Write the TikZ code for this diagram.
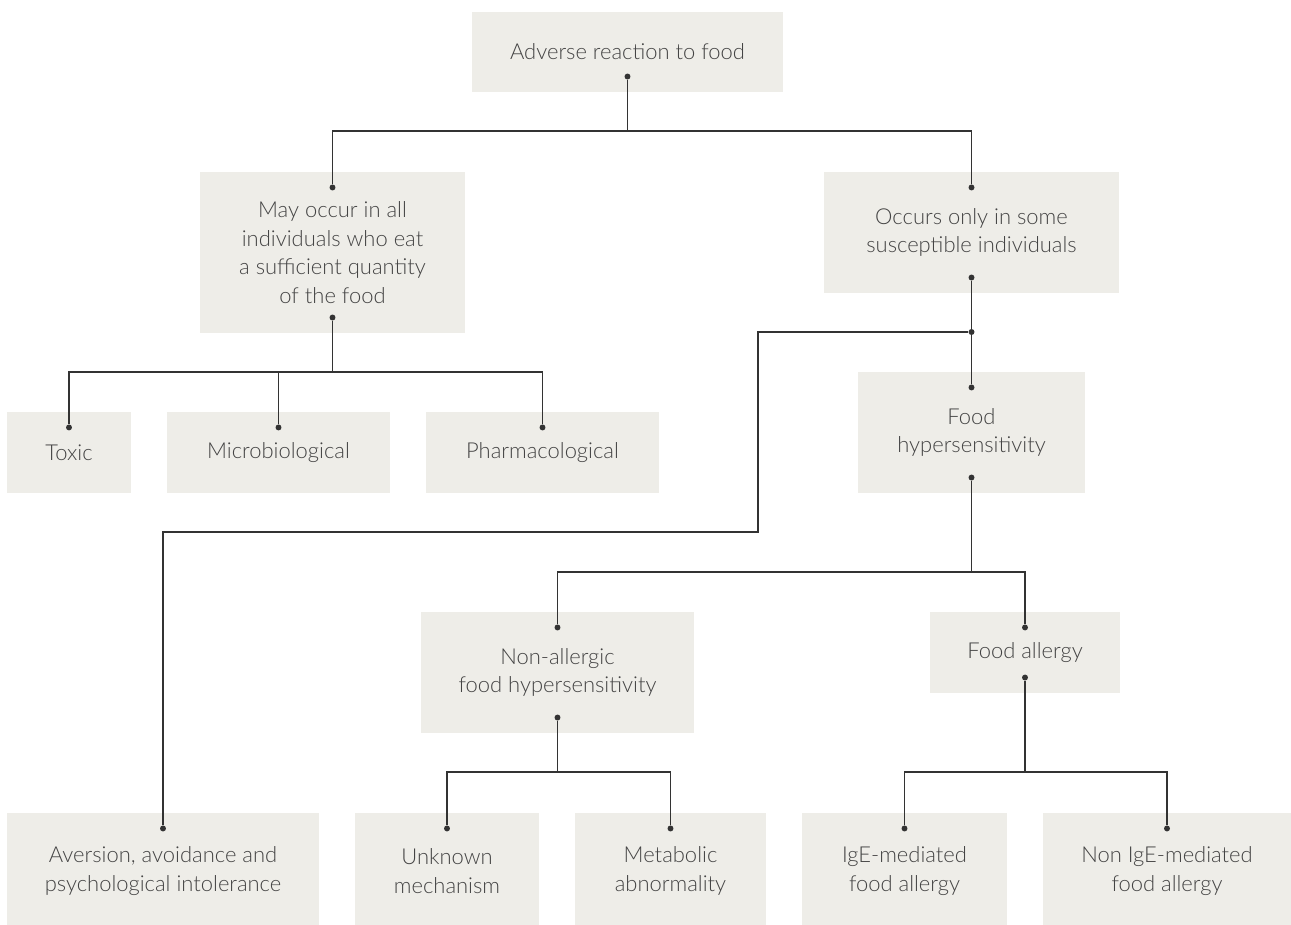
\documentclass[tikz,border=0pt]{standalone}
\usepackage{fontspec}
\setmainfont{Lato}[UprightFont=* Light]
\usetikzlibrary{positioning}

\definecolor{boxgray}{RGB}{238,237,232}
\definecolor{txtgray}{RGB}{68,68,68}
\definecolor{linegray}{RGB}{51,51,51}

\tikzset{
  box/.style={fill=boxgray, text=txtgray, align=center, inner sep=0pt,
    font=\fontsize{12.5}{16.2}\selectfont},
  conn/.style={draw=linegray, line width=0.85pt},
  dot/.style={circle, fill=linegray, inner sep=0pt, minimum size=3.4pt}
}

\begin{document}
\begin{tikzpicture}[x=0.02cm, y=-0.02cm]
\useasboundingbox (0,0) rectangle (1291,925);

% Boxes, top to bottom
\node[box, minimum width=6.22cm, minimum height=1.6cm] (adv) at (627.5,52) {Adverse reaction to food};
\node[box, minimum width=5.3cm, minimum height=3.22cm] (may) at (332.5,252.5)
  {May occur in all\\individuals who eat\\a sufficient quantity\\of the food};
\node[box, minimum width=5.9cm, minimum height=2.42cm] (occ) at (971.5,232.5)
  {Occurs only in some\\susceptible individuals};
\node[box, minimum width=2.48cm, minimum height=1.62cm] (toxic) at (69,452.5) {Toxic};
\node[box, minimum width=4.46cm, minimum height=1.62cm] (micro) at (278.5,452.5) {Microbiological};
\node[box, minimum width=4.66cm, minimum height=1.62cm] (pharm) at (542.5,452.5) {Pharmacological};
\node[box, minimum width=4.54cm, minimum height=2.42cm] (hyp) at (971.5,432.5) {Food\\hypersensitivity};
\node[box, minimum width=5.46cm, minimum height=2.42cm] (nonall) at (557.5,672.5)
  {Non-allergic\\food hypersensitivity};
\node[box, minimum width=3.8cm, minimum height=1.62cm] (allergy) at (1025,652.5) {Food allergy};
% bottom row runs off the lower edge
\node[box, minimum width=6.24cm, minimum height=2.32cm] (aver) at (163,871)
  {Aversion, avoidance and\\psychological intolerance};
\node[box, minimum width=3.68cm, minimum height=2.32cm] (unk) at (447,871) {Unknown\\mechanism};
\node[box, minimum width=3.82cm, minimum height=2.32cm] (meta) at (670.5,871) {Metabolic\\abnormality};
\node[box, minimum width=4.1cm, minimum height=2.32cm] (ige) at (904.5,871) {IgE-mediated\\food allergy};
\node[box, minimum width=4.96cm, minimum height=2.32cm] (nonige) at (1167,871) {Non IgE-mediated\\food allergy};

% Dots where the lines meet the boxes
\foreach \n in {adv,may,occ,hyp,nonall,allergy}
  \node[dot] (\n-out) at ([yshift=9pt]\n.south) {};
\foreach \n in {may,occ,toxic,micro,pharm,hyp,nonall,allergy,aver,unk,meta,ige,nonige}
  \node[dot] (\n-in) at ([yshift=-9pt]\n.north) {};
\node[dot] (split) at (occ-out |- 0,332) {};

% Connectors
\draw[conn] (adv-out) -- (adv-out |- 0,131) coordinate (adv-j);
\draw[conn] (adv-j) -| (may-in);
\draw[conn] (adv-j) -| (occ-in);

\draw[conn] (may-out) -- (may-out |- 0,372) coordinate (may-j);
\draw[conn] (may-j) -| (toxic-in);
\draw[conn] (may-j) -| (micro-in);
\draw[conn] (may-j) -| (pharm-in);

\draw[conn] (occ-out) -- (split) -- (hyp-in);
\draw[conn] (split) -| (758,532) -| (aver-in);

\draw[conn] (hyp-out) -- (hyp-out |- 0,572) coordinate (hyp-j);
\draw[conn] (hyp-j) -| (nonall-in);
\draw[conn] (hyp-j) -| (allergy-in);

\draw[conn] (nonall-out) -- (nonall-out |- 0,772) coordinate (nonall-j);
\draw[conn] (nonall-j) -| (unk-in);
\draw[conn] (nonall-j) -| (meta-in);

\draw[conn] (allergy-out) -- (allergy-out |- 0,772) coordinate (allergy-j);
\draw[conn] (allergy-j) -| (ige-in);
\draw[conn] (allergy-j) -| (nonige-in);
\end{tikzpicture}
\end{document}
